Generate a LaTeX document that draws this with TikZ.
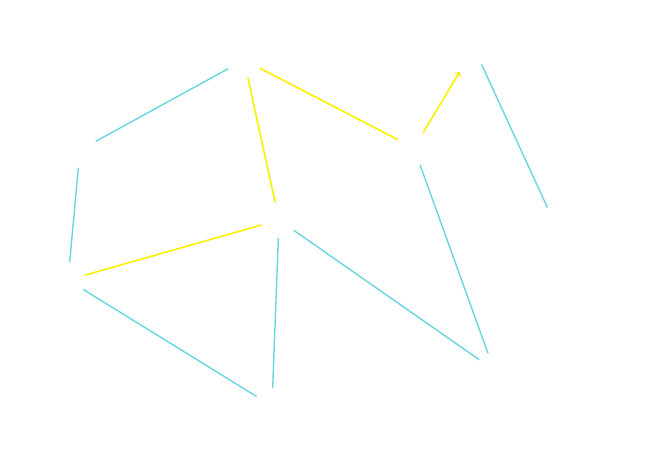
\documentclass[tikz,border=0pt]{standalone}
\usetikzlibrary{arrows}
\definecolor{edgecyan}{RGB}{104,214,222}
\definecolor{edgeyellow}{RGB}{250,240,0}
\tikzset{
    vertex/.style={circle, minimum size=36pt, inner sep=0pt, outer sep=0pt},
    plain/.style={draw=edgecyan, line width=1.4pt},
    marked/.style={draw=edgeyellow, line width=1.6pt}
}

\begin{document}
\begin{tikzpicture}[x=1pt, y=-1pt]
    \useasboundingbox (0,0) rectangle (650,458);
    \node [vertex] (top) at (244,60) {};
    \node [vertex] (left) at (80,150) {};
    \node [vertex] (low) at (68,280) {};
    \node [vertex] (hub) at (279,220) {};
    \node [vertex] (base) at (272,406) {};
    \node [vertex] (south) at (494,370) {};
    \node [vertex] (mid) at (414,148) {};
    \node [vertex] (peak) at (474,48) {};
    \node [vertex] (east) at (555,224) {};

    \path [plain] (top) -- (left);
    \path [plain] (left) -- (low);
    \path [marked] (low) -- (hub);
    \path [plain] (low) -- (base);
    \path [plain] (hub) -- (base);
    \path [plain] (hub) -- (south);
    \path [marked] (top) -- (hub);
    \path [marked] (top) -- (mid);
    \path [marked, ->, shorten >=10pt] (mid) -- (peak);
    \path [plain] (mid) -- (south);
    \path [plain] (peak) -- (east);
\end{tikzpicture}
\end{document}
